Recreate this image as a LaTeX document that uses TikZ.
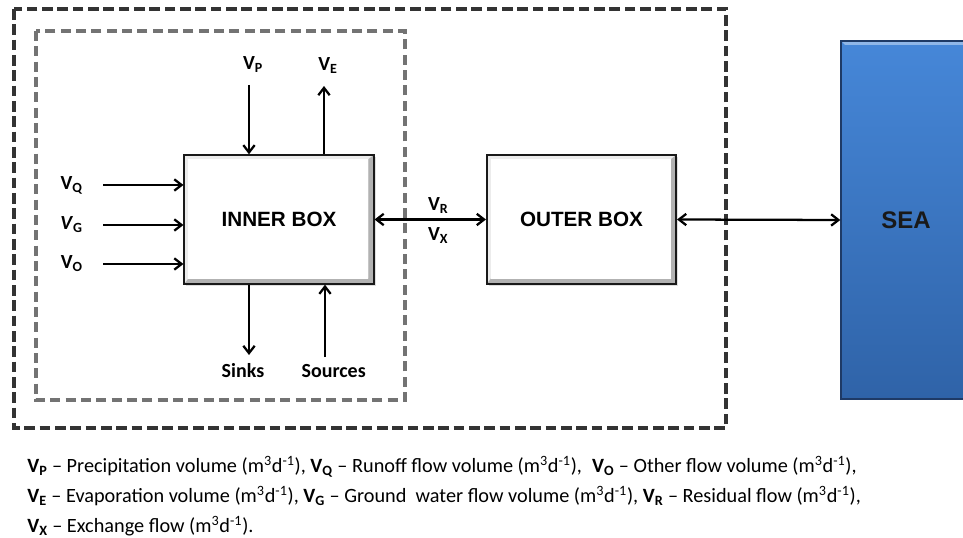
\documentclass[tikz,border=0pt]{standalone}
\usepackage{fontspec}
\setmainfont{Carlito}
\newfontfamily\boxfont{Liberation Sans}
\usetikzlibrary{arrows.meta,positioning,shadows}

\definecolor{seatop}{HTML}{4687D8}
\definecolor{seabot}{HTML}{2F63A8}
\definecolor{sealine}{HTML}{1E3A66}

\newcommand{\mday}{(m\textsuperscript{3}d\textsuperscript{-1})}
\newcommand{\vsub}[1]{\textbf{V\textsubscript{#1}}}

\begin{document}
\begin{tikzpicture}[
    x=0.75pt, y=-0.75pt,
    bevelbox/.style={draw=black!90, line width=1.3pt, fill=white, minimum width=142pt, minimum height=96.5pt,
      inner sep=0pt, font=\boxfont\bfseries\fontsize{15.5}{18}\selectfont,
      drop shadow={opacity=0.25, shadow xshift=1.5pt, shadow yshift=-1.5pt},
      path picture={
        \fill[gray!15] (path picture bounding box.north west) rectangle (path picture bounding box.south east);
        \fill[gray!60] (path picture bounding box.north east) -- (path picture bounding box.south east)
          -- (path picture bounding box.south west) -- ([shift={(3pt,4pt)}]path picture bounding box.south west)
          -- ([shift={(-4pt,4pt)}]path picture bounding box.south east) -- ([shift={(-4pt,-3pt)}]path picture bounding box.north east) -- cycle;
        \fill[white] ([shift={(3pt,-3pt)}]path picture bounding box.north west) rectangle ([shift={(-4pt,4pt)}]path picture bounding box.south east);
      }},
    seabox/.style={draw=sealine, line width=1pt, top color=seatop, bottom color=seabot,
      minimum width=97.5pt, minimum height=268.5pt, text=black!90,
      font=\boxfont\bfseries\fontsize{18}{21}\selectfont,
      path picture={
        \fill[seatop!60!white] (path picture bounding box.north west) -- (path picture bounding box.north east)
          -- ([shift={(-3pt,-3pt)}]path picture bounding box.north east) -- ([shift={(3pt,-3pt)}]path picture bounding box.north west) -- cycle;
      }},
    outerframe/.style={draw=black!80, line width=2.3pt, dash pattern=on 8pt off 3.5pt},
    innerframe/.style={draw=black!55, line width=2.4pt, dash pattern=on 7.5pt off 4pt},
    flow/.style={line width=1.7pt, -{Straight Barb[length=5.5pt,width=8.5pt]}},
    both/.style={line width=1.7pt, {Straight Barb[length=5.5pt,width=8.5pt]}-{Straight Barb[length=5.5pt,width=8.5pt]}},
    lbl/.style={font=\bfseries\fontsize{15}{18}\selectfont, inner sep=1pt},
    leg/.style={font=\fontsize{15.2}{18}\selectfont, inner sep=0pt, anchor=base west},
  ]
  \useasboundingbox (0,0) rectangle (963,538);

  % Frames
  \draw[outerframe] (14,9) rectangle (726,428);
  \draw[innerframe] (36,31) rectangle (405,400);

  % Boxes
  \node[bevelbox] (inner) at (279,219.5) {INNER BOX};
  \node[bevelbox] (outer) at (581.5,219.5) {OUTER BOX};
  \node[seabox] (sea) at (906,220) {SEA};

  % Inflows and outflows
  \coordinate (qin) at (103,185);
  \coordinate (gin) at (103,225);
  \coordinate (oin) at (103,264);
  \coordinate (pin) at (249,85);
  \coordinate (eout) at (324,86);
  \coordinate (sinkend) at (249,355);
  \coordinate (srcend) at (325,357);

  \draw[flow] (qin) -- (qin -| inner.west);
  \draw[flow] (gin) -- (gin -| inner.west);
  \draw[flow] (oin) -- (oin -| inner.west);
  \draw[flow] (pin) -- (pin |- inner.north);
  \draw[flow] (eout |- inner.north) -- (eout);
  \draw[flow] (sinkend |- inner.south) -- (sinkend);
  \draw[flow] (srcend) -- (srcend |- inner.south);

  \node[lbl, left=14pt of qin] (vq) {V\textsubscript{Q}};
  \node[lbl, left=14pt of gin] (vg) {\textit{V}\textsubscript{G}};
  \node[lbl, left=14pt of oin] (vo) {V\textsubscript{O}};
  \node[lbl, above=8pt of pin, xshift=3pt] (vp) {V\textsubscript{P}};
  \node[lbl, above=8pt of eout, xshift=3pt] (ve) {V\textsubscript{E}};
  \node[lbl, below=5.5pt of sinkend, xshift=-4.5pt] (sinks) {Sinks};
  \node[lbl, below=4pt of srcend, xshift=6.5pt] (sources) {Sources};

  % Exchanges
  \draw[both] (inner.east) -- node[lbl, above=3pt, xshift=6pt] (vr) {V\textsubscript{R}}
    node[lbl, below=4pt, xshift=6pt] (vx) {V\textsubscript{X}} (outer.west);
  \draw[both] (outer.east) -- (sea.west);

  % Legend
  \node[leg] (leg1) at (27,472.5) {\vsub{P} -- Precipitation volume \mday, \vsub{Q} -- Runoff flow volume \mday,\enspace\vsub{O} -- Other flow volume \mday,};
  \node[leg] (leg2) at ([yshift=-22.5pt]leg1.base west) {\vsub{E} -- Evaporation volume \mday, \vsub{G} -- Ground\ \ water flow volume \mday, \vsub{R} -- Residual flow \mday,};
  \node[leg] (leg3) at ([yshift=-22.5pt]leg2.base west) {\vsub{X} -- Exchange flow \mday.};
\end{tikzpicture}
\end{document}
